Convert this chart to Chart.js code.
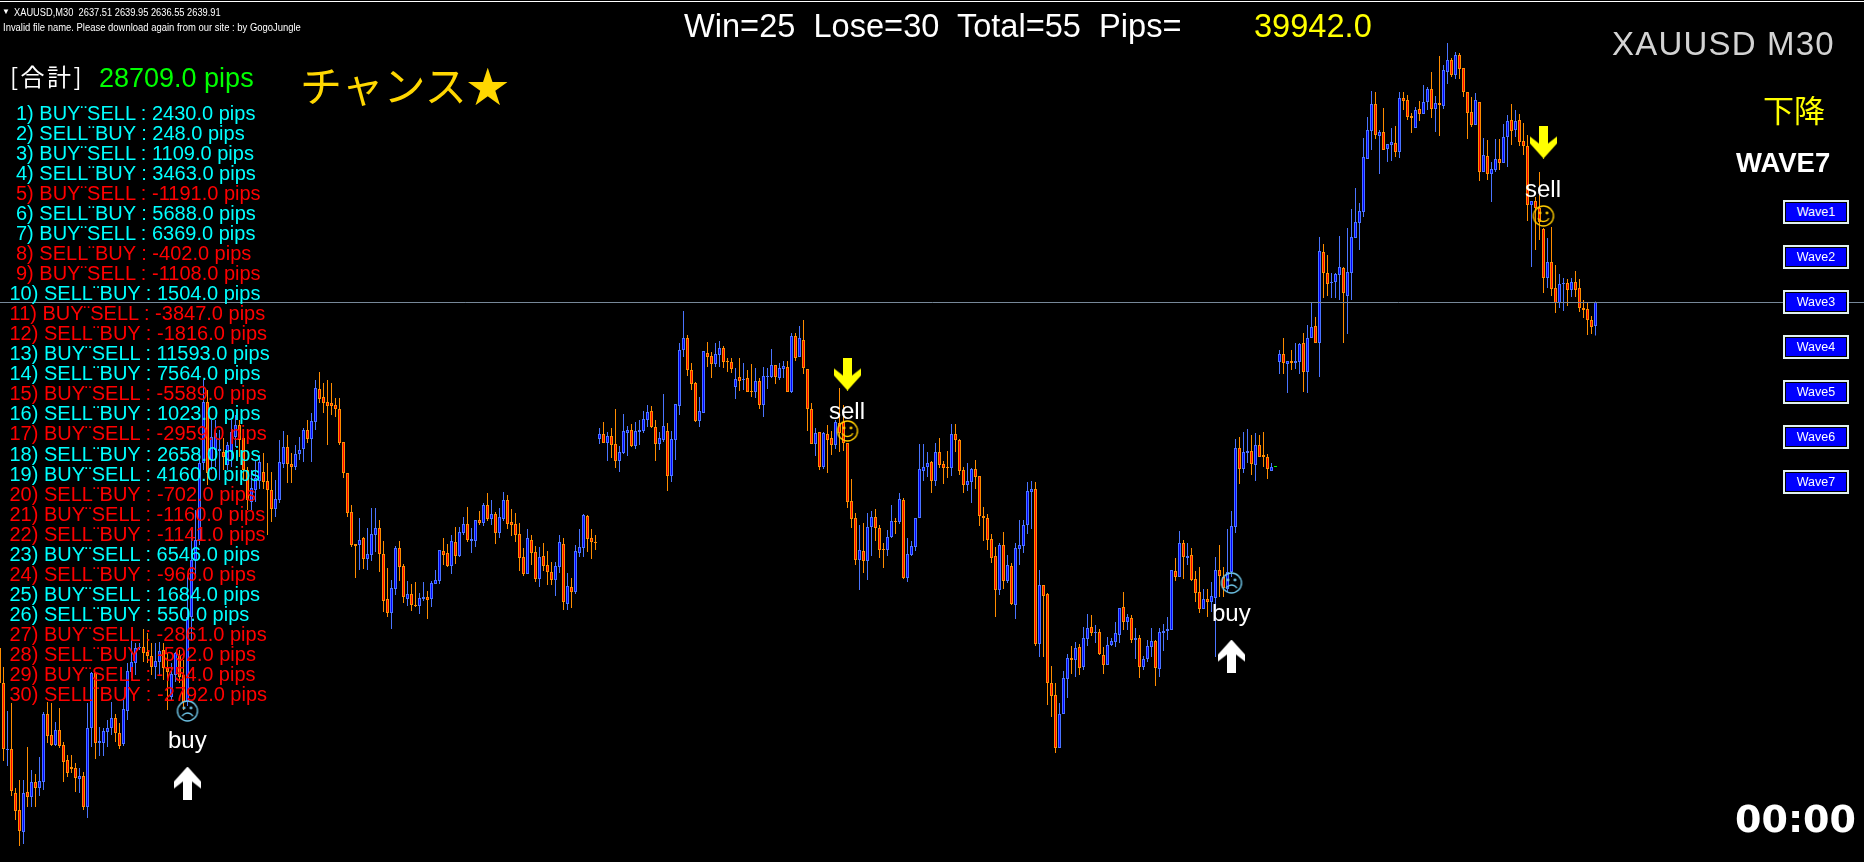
<!DOCTYPE html>
<html><head><meta charset="utf-8">
<style>
html,body{margin:0;padding:0;background:#000;width:1864px;height:862px;overflow:hidden}
#chart{position:absolute;left:0;top:0}
.t{position:absolute;white-space:pre;line-height:1;font-family:"Liberation Sans",Arial,sans-serif;transform-origin:left center}
.btn{position:absolute;box-sizing:border-box;width:66px;height:24px;border:2px solid #e2f2f2;background:#0000ff;box-shadow:inset 0 0 0 1px #000;color:#fff;font:12.5px/20px "Liberation Sans",sans-serif;text-align:center}
</style>
<script src="https://cdn.jsdelivr.net/npm/chart.js@4"></script>
</head><body>
<canvas id="chart" width="1864" height="862"></canvas>
<script>
const opens=[2605.3,2601.8,2595.1,2595.2,2590.8,2589.1,2586.9,2590.9,2590.4,2591.9,
2591.3,2591.9,2598.7,2596.6,2595.6,2597.1,2595.6,2594.1,2593.4,2593.3,
2592.2,2592.5,2589.4,2597.3,2602.8,2595.8,2595.8,2596.9,2597.3,2598.3,
2596.8,2595.7,2599.0,2602.9,2603.8,2605.3,2605.4,2604.9,2604.5,2603.4,
2603.9,2605.1,2603.3,2600.4,2602.6,2604.6,2602.6,2599.9,2608.4,2614.1,
2616.1,2623.8,2629.9,2624.1,2625.1,2625.0,2624.9,2623.6,2624.9,2626.4,
2627.6,2626.3,2623.1,2619.9,2621.1,2622.0,2622.9,2622.0,2621.1,2619.2,
2620.1,2623.7,2625.4,2623.7,2623.4,2624.7,2625.2,2627.1,2626.2,2627.9,
2631.2,2630.4,2629.9,2629.8,2629.6,2629.2,2625.9,2622.8,2618.9,2615.7,
2615.6,2616.3,2614.2,2614.6,2616.6,2617.3,2614.7,2610.2,2608.8,2611.2,
2615.3,2613.5,2610.2,2610.7,2609.6,2609.5,2610.2,2610.4,2610.2,2611.7,
2612.0,2615.0,2614.8,2613.5,2615.9,2614.5,2616.8,2617.7,2616.0,2616.0,
2618.1,2617.8,2619.6,2618.2,2618.7,2616.8,2618.2,2620.1,2617.9,2617.7,
2616.7,2614.4,2612.7,2616.1,2614.9,2612.2,2614.5,2613.6,2612.9,2612.1,
2613.4,2615.7,2609.7,2611.4,2610.9,2614.8,2615.3,2618.5,2616.3,2615.9,
2626.2,2626.7,2625.8,2626.5,2625.7,2624.0,2624.8,2626.8,2627.1,2625.5,
2626.9,2627.0,2628.1,2629.0,2627.4,2625.7,2626.1,2627.0,2622.5,2626.1,
2629.5,2635.1,2636.3,2633.1,2631.8,2628.0,2628.8,2634.8,2634.5,2633.7,
2634.6,2635.3,2634.0,2633.9,2631.4,2632.4,2632.1,2632.3,2631.0,2630.9,
2632.0,2629.6,2632.4,2632.4,2633.6,2632.3,2633.2,2633.4,2630.9,2636.5,
2634.4,2636.1,2633.2,2629.2,2625.7,2626.9,2623.4,2626.7,2626.3,2625.6,
2627.8,2627.9,2625.8,2620.0,2618.3,2614.1,2615.0,2614.0,2617.4,2618.4,
2617.3,2615.2,2615.1,2616.4,2618.0,2617.9,2620.1,2612.3,2614.6,2615.4,
2618.3,2623.0,2623.4,2623.9,2622.0,2624.9,2623.7,2623.4,2623.3,2626.7,
2626.1,2623.1,2621.6,2621.9,2623.2,2622.5,2618.5,2618.3,2616.2,2614.5,
2611.1,2615.6,2612.0,2613.5,2609.6,2615.2,2615.5,2617.6,2620.9,2621.2,
2605.7,2611.6,2610.7,2601.8,2600.6,2595.3,2598.7,2602.2,2604.3,2604.1,
2605.4,2603.4,2606.2,2607.4,2606.8,2606.9,2604.6,2603.6,2605.6,2605.9,
2606.6,2609.4,2607.9,2608.3,2606.1,2606.3,2603.4,2604.2,2605.4,2606.0,
2603.2,2606.8,2607.0,2607.1,2613.0,2612.4,2615.8,2614.3,2614.6,2612.2,
2610.9,2609.2,2610.2,2609.9,2610.3,2613.1,2612.4,2611.2,2612.9,2617.4,
2625.3,2623.2,2624.8,2625.0,2623.6,2625.6,2624.6,2624.4,2623.0,2623.4,
2633.9,2634.7,2633.7,2634.0,2633.8,2633.9,2635.8,2632.9,2636.3,2637.5,
2635.8,2644.9,2642.8,2641.8,2641.9,2642.6,2643.3,2640.5,2642.8,2646.3,
2647.8,2648.9,2654.2,2657.0,2659.7,2656.5,2656.9,2655.2,2655.6,2655.8,
2654.9,2660.3,2660.1,2658.5,2657.3,2659.2,2658.7,2659.9,2661.2,2659.2,
2659.8,2659.5,2662.9,2664.1,2662.6,2664.6,2663.3,2660.9,2658.9,2657.6,
2659.9,2652.9,2654.5,2652.7,2653.1,2654.2,2653.8,2656.4,2658.1,2657.1,
2658.1,2656.0,2655.5,2649.6,2650.0,2649.3,2647.2,2642.3,2643.9,2641.3,
2639.8,2641.7,2641.8,2641.1,2641.9,2641.3,2639.3,2639.2,2638.1,2637.51];
const highs=[2605.6,2603.4,2599.0,2599.8,2591.3,2592.1,2592.1,2595.4,2593.1,2592.7,
2594.4,2598.9,2599.9,2599.8,2597.9,2599.3,2595.9,2594.6,2594.6,2593.8,
2593.3,2592.9,2599.8,2602.9,2602.9,2597.4,2597.3,2598.1,2599.9,2598.7,
2597.8,2600.1,2603.8,2606.1,2605.8,2605.8,2607.2,2606.8,2605.8,2605.8,
2605.9,2605.8,2604.8,2603.8,2604.9,2605.1,2604.1,2612.6,2617.1,2619.1,
2625.1,2632.1,2631.1,2628.1,2628.1,2627.1,2626.3,2625.9,2628.1,2628.6,
2628.1,2626.8,2623.4,2623.1,2624.1,2624.6,2624.8,2623.8,2622.9,2622.1,
2626.1,2627.0,2626.6,2624.8,2625.6,2626.4,2627.3,2628.1,2628.8,2632.1,
2632.9,2631.8,2632.1,2631.8,2630.3,2630.3,2625.9,2622.8,2619.6,2615.7,
2618.3,2616.4,2617.3,2619.3,2619.3,2618.1,2616.0,2613.3,2612.1,2615.5,
2616.0,2613.7,2612.0,2611.7,2611.9,2610.8,2611.9,2611.0,2612.0,2613.1,
2615.1,2616.3,2615.7,2616.6,2617.4,2617.4,2618.4,2619.4,2617.3,2618.1,
2619.0,2619.8,2620.8,2620.1,2618.9,2619.3,2620.9,2620.6,2619.2,2618.8,
2617.8,2615.3,2617.2,2616.6,2615.5,2615.4,2615.8,2615.0,2613.9,2613.9,
2616.6,2616.3,2612.8,2612.3,2615.6,2617.2,2618.7,2618.6,2617.2,2616.6,
2627.3,2627.9,2626.9,2627.3,2629.2,2625.5,2628.7,2627.5,2627.7,2627.9,
2628.1,2629.0,2629.6,2629.5,2628.1,2626.9,2630.7,2627.8,2627.0,2629.7,
2635.8,2639.0,2636.6,2633.8,2631.9,2630.4,2635.0,2635.9,2634.9,2635.8,
2636.0,2635.5,2634.3,2634.3,2633.3,2634.3,2633.8,2633.1,2633.7,2633.3,
2632.3,2633.4,2633.3,2635.2,2633.6,2633.8,2634.0,2634.0,2636.8,2636.8,
2637.5,2638.1,2633.2,2629.8,2627.3,2626.9,2626.9,2627.6,2627.0,2628.1,
2631.3,2629.6,2625.8,2622.2,2618.8,2617.6,2617.8,2618.8,2619.0,2619.2,
2617.6,2615.8,2617.1,2619.6,2618.3,2620.8,2620.3,2616.3,2616.0,2618.3,
2625.7,2625.7,2624.9,2624.0,2625.8,2626.3,2624.0,2625.0,2627.7,2627.7,
2626.2,2623.4,2623.8,2623.3,2624.1,2622.5,2619.4,2618.7,2616.7,2615.4,
2615.8,2616.9,2614.6,2613.8,2615.8,2618.1,2618.1,2621.9,2622.0,2621.9,
2613.1,2611.6,2610.8,2603.5,2601.8,2599.8,2603.0,2604.7,2605.5,2605.9,
2605.7,2607.4,2608.7,2608.6,2607.6,2607.2,2605.4,2606.4,2606.3,2607.9,
2609.3,2610.9,2608.7,2608.6,2607.3,2606.6,2604.5,2606.1,2607.3,2606.1,
2607.3,2607.7,2608.4,2613.1,2614.3,2617.0,2616.1,2615.8,2615.3,2613.0,
2613.4,2611.2,2611.2,2611.9,2614.4,2615.6,2613.4,2617.2,2619.0,2626.2,
2626.4,2626.9,2627.2,2626.6,2626.8,2626.6,2626.9,2624.7,2623.8,2623.4,
2635.1,2636.3,2634.0,2635.1,2635.8,2635.8,2636.8,2637.6,2639.8,2638.4,
2646.4,2645.7,2644.6,2642.8,2642.8,2646.5,2643.4,2647.3,2649.2,2651.3,
2649.8,2656.3,2658.4,2661.0,2660.9,2657.1,2659.3,2655.7,2657.3,2657.5,
2660.9,2660.9,2660.6,2658.8,2659.4,2660.0,2661.6,2661.4,2662.9,2660.5,
2664.5,2663.6,2665.8,2664.3,2664.9,2664.8,2663.3,2660.9,2660.4,2660.8,
2659.9,2656.3,2656.1,2653.9,2656.2,2656.2,2657.7,2658.6,2659.7,2659.1,
2658.7,2657.8,2656.6,2650.0,2650.4,2652.9,2647.3,2646.3,2647.4,2643.6,
2642.7,2642.3,2642.2,2642.3,2643.0,2642.2,2640.1,2639.8,2638.5,2639.95];
const lows=[2601.1,2594.0,2593.5,2590.5,2588.1,2585.5,2585.7,2589.4,2589.4,2589.4,
2590.5,2591.1,2595.8,2595.5,2595.5,2595.3,2591.9,2592.4,2592.8,2590.9,
2590.8,2589.1,2588.3,2595.4,2594.2,2594.5,2594.5,2595.4,2596.6,2595.9,
2595.2,2595.5,2598.1,2602.3,2602.6,2605.1,2603.9,2603.8,2602.6,2602.2,
2602.6,2602.1,2599.1,2600.1,2601.9,2601.8,2599.1,2599.5,2606.1,2612.6,
2615.6,2623.1,2621.6,2623.1,2623.4,2622.1,2623.1,2623.1,2623.4,2625.4,
2624.4,2622.1,2619.1,2619.1,2619.9,2621.2,2621.2,2616.6,2617.9,2618.4,
2619.8,2623.3,2621.8,2621.8,2623.1,2624.1,2623.9,2625.8,2623.9,2627.1,
2629.8,2628.8,2625.6,2628.6,2628.4,2625.6,2622.3,2618.4,2615.4,2612.3,
2613.1,2613.2,2613.1,2614.0,2614.9,2612.9,2608.9,2608.4,2607.2,2610.6,
2612.0,2609.8,2609.5,2609.0,2609.4,2608.7,2610.0,2608.2,2609.4,2611.7,
2611.7,2613.6,2613.4,2612.7,2613.7,2614.4,2616.6,2615.9,2614.8,2615.4,
2617.6,2617.5,2618.0,2617.6,2615.7,2616.3,2618.0,2617.2,2616.5,2615.9,
2613.0,2612.5,2612.7,2613.6,2611.9,2611.4,2613.0,2611.6,2611.6,2610.5,
2612.8,2609.1,2609.1,2609.3,2610.7,2614.4,2614.4,2614.9,2614.2,2615.1,
2625.7,2625.8,2624.0,2624.3,2623.3,2622.9,2624.7,2624.5,2625.4,2625.2,
2625.6,2626.8,2627.4,2627.3,2624.0,2625.1,2625.9,2621.0,2621.9,2624.1,
2628.6,2634.4,2632.5,2631.1,2627.9,2627.4,2628.8,2633.4,2632.3,2633.4,
2633.4,2633.3,2632.9,2632.8,2630.2,2631.0,2631.1,2630.9,2630.4,2630.3,
2629.2,2628.4,2631.2,2632.3,2631.7,2632.1,2632.3,2630.9,2630.8,2634.0,
2634.4,2632.7,2627.0,2625.7,2624.5,2623.1,2623.2,2622.8,2624.6,2625.2,
2624.9,2625.0,2619.3,2617.3,2613.6,2611.1,2612.8,2612.1,2614.5,2616.0,
2614.3,2613.3,2614.5,2616.3,2616.7,2617.7,2612.2,2611.9,2614.5,2615.0,
2618.3,2622.0,2622.4,2620.8,2621.5,2623.3,2621.7,2622.3,2622.5,2624.9,
2622.6,2620.8,2621.0,2619.8,2621.2,2617.5,2616.0,2615.1,2613.8,2608.4,
2610.6,2611.2,2611.8,2609.6,2608.2,2613.6,2614.8,2616.7,2617.2,2605.5,
2604.4,2604.4,2599.6,2598.4,2594.8,2595.3,2598.7,2600.3,2602.7,2602.4,
2602.6,2603.1,2605.5,2606.5,2605.8,2604.6,2602.7,2603.6,2605.5,2605.4,
2605.8,2607.1,2607.1,2605.8,2604.2,2602.3,2603.1,2603.9,2604.4,2601.5,
2602.4,2605.0,2606.1,2607.1,2612.0,2612.4,2612.2,2613.6,2612.0,2609.9,
2608.8,2609.2,2608.4,2608.9,2604.4,2610.4,2610.4,2610.9,2612.4,2616.8,
2621.7,2622.8,2623.8,2622.6,2622.0,2624.4,2623.4,2622.2,2623.0,2623.4,
2632.7,2632.7,2630.8,2633.1,2633.2,2632.7,2630.9,2630.8,2636.3,2635.8,
2632.4,2640.3,2640.5,2640.3,2640.3,2640.1,2635.8,2636.7,2640.1,2646.3,
2645.1,2648.4,2654.2,2655.1,2656.2,2652.7,2655.1,2653.9,2654.0,2654.4,
2654.3,2659.1,2658.1,2656.8,2657.3,2658.0,2658.7,2659.1,2658.3,2656.9,
2656.5,2659.2,2661.7,2662.4,2662.2,2662.2,2660.4,2656.2,2657.4,2657.6,
2652.0,2652.9,2652.1,2649.9,2652.9,2653.1,2653.8,2653.4,2655.6,2656.4,
2655.5,2654.6,2648.0,2643.4,2645.1,2646.1,2640.8,2641.3,2640.5,2638.8,
2639.3,2639.0,2639.5,2640.4,2640.4,2638.9,2638.3,2636.6,2636.7,2636.55];
const closes=[2601.8,2595.2,2595.2,2591.0,2589.0,2587.0,2590.8,2590.4,2591.9,2591.3,
2592.0,2598.7,2596.5,2595.6,2597.1,2595.5,2593.9,2592.8,2593.2,2592.3,
2592.5,2589.4,2597.3,2602.8,2595.8,2596.0,2597.0,2597.3,2598.3,2596.8,
2595.5,2599.2,2603.0,2603.9,2605.3,2605.4,2604.8,2604.5,2603.4,2604.0,
2605.0,2603.3,2602.9,2602.7,2604.8,2602.4,2599.9,2608.4,2614.1,2616.1,
2623.8,2629.9,2622.8,2626.4,2626.8,2625.2,2624.4,2625.6,2626.9,2627.6,
2626.1,2623.1,2620.1,2621.3,2622.3,2623.9,2621.9,2621.1,2619.2,2620.2,
2623.9,2625.4,2623.7,2623.4,2624.7,2625.1,2627.1,2626.2,2628.0,2631.3,
2630.2,2629.8,2629.5,2629.5,2629.2,2625.8,2622.8,2618.8,2615.6,2615.5,
2616.1,2614.2,2614.7,2616.7,2617.3,2614.7,2610.0,2608.8,2611.3,2615.3,
2613.4,2610.4,2610.7,2609.6,2609.5,2610.3,2610.4,2610.1,2611.8,2612.1,
2615.1,2614.6,2613.5,2616.0,2614.5,2616.9,2617.7,2616.1,2616.2,2618.1,
2617.8,2619.6,2618.2,2618.7,2616.8,2618.4,2620.1,2617.7,2617.6,2616.6,
2614.3,2612.7,2616.3,2614.8,2612.2,2614.4,2613.5,2612.9,2612.1,2613.5,
2615.9,2609.9,2611.5,2610.9,2615.0,2615.4,2618.6,2616.2,2615.9,2615.8,
2626.7,2625.8,2626.5,2625.6,2624.0,2624.9,2627.0,2627.1,2625.5,2627.0,
2627.1,2628.2,2628.9,2627.4,2625.7,2626.3,2627.5,2622.5,2626.2,2629.7,
2635.1,2636.3,2633.1,2631.7,2628.0,2629.0,2635.0,2634.4,2633.7,2634.7,
2635.3,2633.9,2633.9,2633.2,2632.2,2632.0,2632.2,2630.9,2630.9,2632.0,
2629.6,2632.5,2632.5,2633.6,2632.4,2633.3,2633.5,2630.9,2636.5,2634.3,
2636.3,2633.3,2629.2,2625.7,2626.8,2623.4,2626.8,2626.1,2625.6,2627.9,
2626.8,2625.8,2619.9,2618.2,2614.1,2615.1,2614.0,2617.4,2618.4,2617.3,
2615.1,2615.1,2616.4,2618.0,2617.9,2620.2,2612.3,2614.7,2615.5,2618.3,
2623.2,2623.4,2623.8,2622.0,2624.9,2623.6,2623.3,2623.3,2626.7,2626.1,
2623.0,2621.6,2622.0,2623.2,2622.4,2618.5,2618.3,2616.1,2614.3,2611.1,
2615.6,2612.0,2613.6,2609.7,2615.3,2615.6,2617.6,2621.0,2621.2,2605.7,
2611.6,2610.5,2601.8,2600.5,2595.3,2598.7,2602.3,2604.3,2604.1,2605.3,
2603.3,2606.3,2607.3,2606.8,2606.9,2604.7,2603.6,2605.6,2606.0,2606.8,
2609.3,2607.9,2608.4,2606.1,2606.3,2603.4,2604.2,2605.5,2606.0,2603.3,
2606.9,2607.0,2607.2,2613.1,2612.4,2615.8,2614.4,2614.5,2612.1,2610.8,
2609.2,2610.2,2609.9,2610.5,2613.1,2612.5,2611.3,2612.9,2617.5,2625.3,
2623.2,2624.9,2625.0,2623.7,2625.6,2624.4,2624.4,2623.2,2623.4,2623.4,
2634.7,2633.8,2634.0,2633.8,2634.0,2635.7,2632.9,2636.3,2637.4,2635.8,
2645.0,2642.8,2641.7,2641.9,2642.7,2643.4,2640.8,2642.9,2646.4,2647.9,
2649.0,2654.4,2657.1,2659.7,2656.6,2656.9,2655.1,2655.7,2655.9,2654.9,
2660.3,2660.0,2658.4,2658.3,2659.1,2658.7,2659.9,2661.2,2659.2,2659.8,
2659.6,2663.1,2664.1,2662.6,2664.6,2663.2,2660.9,2658.8,2657.6,2660.1,
2652.9,2654.6,2652.7,2653.2,2654.2,2653.8,2656.4,2658.0,2657.0,2658.0,
2655.9,2655.5,2649.6,2650.0,2649.3,2647.9,2642.3,2643.9,2641.2,2639.8,
2641.7,2641.8,2641.1,2641.9,2641.1,2639.3,2639.1,2638.1,2637.4,2639.91];
const firstBar=-1;

const tradeSides=["BUY¨SELL","SELL¨BUY"];
const tradePips=[2430,248,1109,3463,-1191,5688,6369,-402,-1108,1504,-3847,-1816,11593,7564,-5589,1023,-2959,2658,4160,-702,-1160,-1141,6546,-966,1684,550,-2861,-592,-754,-2792];
const buttons=["Wave1","Wave2","Wave3","Wave4","Wave5","Wave6","Wave7"];

const bidLine=2639.85;
const buyArrowBars=[46,307], buyArrowPrices=[2591.8,2604.5];
const sellArrowBars=[211,385], sellArrowPrices=[2632.7,2655.9];
const frownBars=[46,307], frownPrices=[2599.0,2611.8];
const smileBars=[211,385], smilePrices=[2627.0,2648.5];

const BULL_LINE="#4a74ff",BULL_FILL="#0000ff",BEAR_LINE="#ff8c00",BEAR_FILL="#ff0000",DOJI="#00ff00";

function arrowIcon(color,up){
  const c=document.createElement('canvas');c.width=27;c.height=33;
  const x=c.getContext('2d');
  if(!up){x.translate(0,33);x.scale(1,-1);}
  x.fillStyle=color;x.beginPath();
  [[13.5,0],[27,15],[27,22],[18,15],[18,33],[9,33],[9,15],[0,22],[0,15]].forEach((p,i)=>i?x.lineTo(p[0],p[1]):x.moveTo(p[0],p[1]));
  x.closePath();x.fill();return c;
}
function faceIcon(color,smile){
  const c=document.createElement('canvas');c.width=24;c.height=24;
  const x=c.getContext('2d');x.strokeStyle=color;x.fillStyle=color;x.lineWidth=1.4;
  x.beginPath();x.arc(12,12,10,0,Math.PI*2);x.stroke();
  x.beginPath();x.arc(8.5,9,1.4,0,Math.PI*2);x.arc(15.5,9,1.4,0,Math.PI*2);x.fill();
  x.beginPath();
  if(smile)x.arc(12,11.5,6,0.15*Math.PI,0.85*Math.PI);else x.arc(12,20,6,1.15*Math.PI,1.85*Math.PI);
  x.stroke();return c;
}

// the plot fills the whole window: no padding reserved for point overflow
['line','scatter'].forEach(t=>{Chart.registry.getController(t).prototype.getMaxOverflow=()=>0;});

const bars=opens.map((_,i)=>i+firstBar);
const lineCol=i=>opens[i]===closes[i]?DOJI:closes[i]>opens[i]?BULL_LINE:BEAR_LINE;
const fillCol=i=>opens[i]===closes[i]?DOJI:closes[i]>opens[i]?BULL_FILL:BEAR_FILL;
const pts=(xs,ys)=>xs.map((x,i)=>({x,y:ys[i]}));
const marker=(xs,ys,img)=>({type:'scatter',data:pts(xs,ys),pointStyle:img,pointRadius:8,order:0,clip:false});

new Chart(document.getElementById('chart'),{
  type:'bar',
  data:{datasets:[
    {label:'wicks',data:bars.map((x,i)=>({x,y:[lows[i],highs[i]]})),backgroundColor:bars.map((_,i)=>lineCol(i)),barThickness:1,borderWidth:0,inflateAmount:0,grouped:false,order:3},
    {label:'bodies',data:bars.map((x,i)=>({x,y:[opens[i],opens[i]===closes[i]?closes[i]+0.1:closes[i]]})),backgroundColor:bars.map((_,i)=>fillCol(i)),borderColor:bars.map((_,i)=>lineCol(i)),barThickness:3,borderWidth:1,borderSkipped:false,inflateAmount:0,grouped:false,order:2},
    {type:'line',label:'bid',data:[{x:-1,y:bidLine},{x:466,y:bidLine}],borderColor:'#778899',borderWidth:1,pointRadius:0,order:1},
    marker(buyArrowBars,buyArrowPrices,arrowIcon('#ffffff',true)),
    marker(sellArrowBars,sellArrowPrices,arrowIcon('#ffff00',false)),
    marker(frownBars,frownPrices,faceIcon('#6fc6e8',false)),
    marker(smileBars,smilePrices,faceIcon('#ffcc00',true))
  ]},
  options:{
    responsive:false,animation:false,events:[],
    layout:{padding:0},
    plugins:{legend:{display:false},tooltip:{enabled:false}},
    scales:{
      x:{type:'linear',min:-0.875,max:465.125,offset:false,display:false},
      y:{type:'linear',min:2583.9,max:2670.1,display:false}
    }
  }
});

function text(s,left,cy,font,color,extra){
  const d=document.createElement('div');d.className='t';d.textContent=s;
  d.style.font=font;d.style.lineHeight='1';d.style.color=color;d.style.left=left+'px';
  d.style.top=cy+'px';d.style.transform='translateY(-50%)';
  if(extra)Object.assign(d.style,extra);
  document.body.appendChild(d);return d;
}
const L='"Liberation Sans",sans-serif',J='"Noto Sans CJK JP",sans-serif';
const squeeze={transform:'translateY(-50%) scaleX(.9)'};
const bar=document.createElement('div');
bar.style.cssText='position:absolute;left:0;top:1px;width:1864px;height:1px;background:#fff';document.body.appendChild(bar);
text('▼',2,12,'8px '+L,'#fff');
text('XAUUSD,M30  2637.51 2639.95 2636.55 2639.91',14,12,'10.5px '+L,'#fff',{transform:'translateY(-50%) scaleX(.885)'});
text('Invalid file name. Please download again from our site : by GogoJungle',3,27,'10.5px '+L,'#fff',squeeze);
text('Win=25  Lose=30  Total=55  Pips=',684,26,'32.6px '+L,'#fff');
text('39942.0',1254,26,'32.6px '+L,'#ffff00');
text('XAUUSD M30',1612,43,'33px '+L,'#d3d3d3',{letterSpacing:'1.2px'});
text('[合計]',10,76,'24px '+J,'#fff',{letterSpacing:'2.5px'});
text('28709.0 pips',99,78,'27px '+L,'#00ff00');
text('チャンス★',300,84,'42px '+J,'#ffd700');
tradePips.forEach((v,i)=>{
  const n=i+1;
  text(n+') '+tradeSides[i%2]+' : '+v.toFixed(1)+' pips',n<10?16:9.5,113+i*20.03,'20px '+L,v<0?'#ff0000':'#00ffff');
});
text('下降',1763,108,'31px '+J,'#ffff00');
text('WAVE7',1736,163,'bold 27.5px '+L,'#fff');
buttons.forEach((b,i)=>{
  const d=document.createElement('div');d.className='btn';d.textContent=b;
  d.style.left='1783px';d.style.top=(200+i*45)+'px';document.body.appendChild(d);
});
text('00:00',1735,819,'bold 38px "DejaVu Sans",sans-serif','#fff');
text('buy',168,740,'24px '+L,'#fff');
text('buy',1212,613,'24px '+L,'#fff');
text('sell',829,411,'24px '+L,'#fff');
text('sell',1525,189,'24px '+L,'#fff');
</script>
</body></html>
